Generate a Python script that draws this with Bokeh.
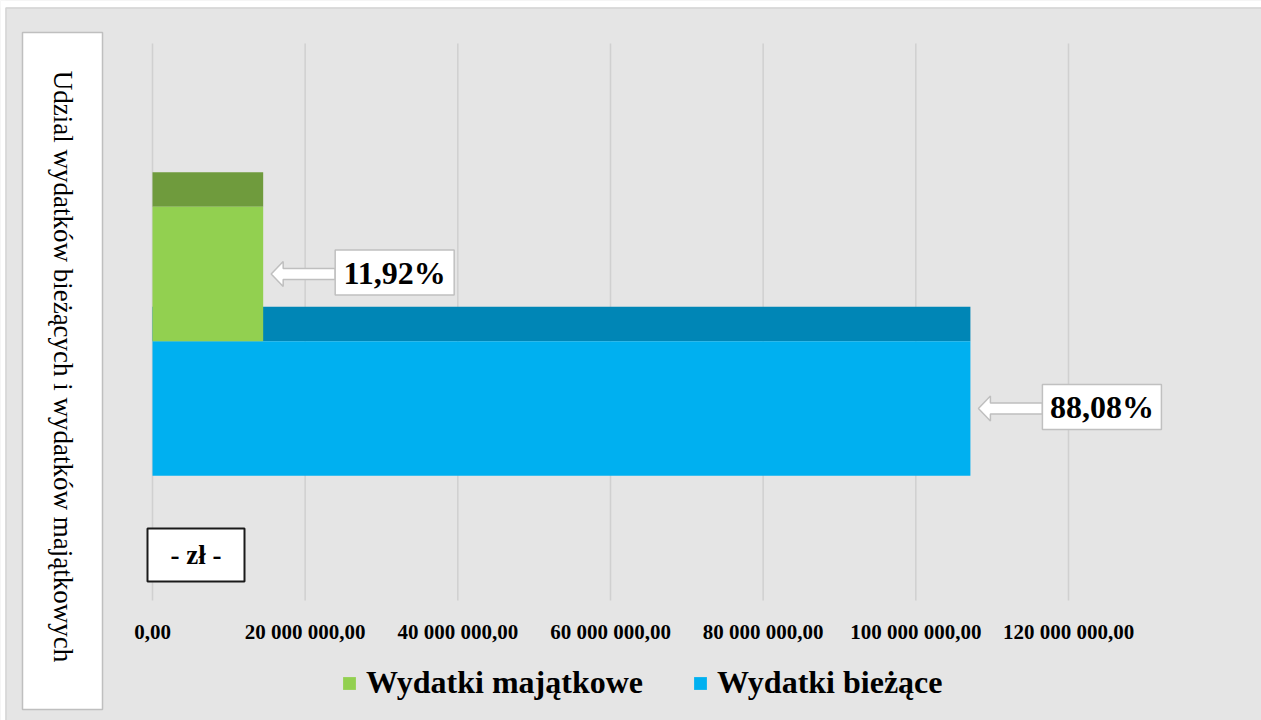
import math
from bokeh.plotting import figure
from bokeh.models import (Range1d, FixedTicker, Label, BoxAnnotation, Legend,
                          LegendItem, ColumnDataSource)
from bokeh.embed import file_html
from bokeh.resources import INLINE

# ---------------- data ----------------
series = ["Wydatki majątkowe", "Wydatki bieżące"]
amounts = [14_500_000, 107_150_000]
front_colors = ["#92d050", "#00b0f0"]
top_colors = ["#6f9b3d", "#0086b6"]
x_ticks = [0, 20_000_000, 40_000_000, 60_000_000, 80_000_000, 100_000_000, 120_000_000]
y_title = "Udzial wydatków bieżących i wydatków majątkowych"
unit_text = "- zł -"

# ---------------- layout ----------------
W, H = 1261, 720
ORIGIN_PX = 152            # canvas x of value 0
PX_PER_UNIT = 916 / 120e6  # pixels per zloty
px = 1 / PX_PER_UNIT       # data units per pixel (x)
FONT = "Liberation Serif"
BG = "#e5e5e5"


def X(cx):
    """canvas x -> data x"""
    return (cx - ORIGIN_PX) * px


def Y(cy):
    """canvas y -> data y (and frame-relative screen y)"""
    return H - cy


def screen_box(left, right, top, bottom, **kw):
    return BoxAnnotation(left=left, right=right, top=top, bottom=bottom,
                         left_units="screen", right_units="screen",
                         top_units="screen", bottom_units="screen", **kw)


GRID_TOP, GRID_BOTTOM = 43, 600
CAT_Y = Y(340.75)
BAR_H = 134.5
DEPTH = 34.5

p = figure(width=W, height=H, output_backend="svg", toolbar_location=None,
           x_range=Range1d(X(0), X(W)), y_range=Range1d(0, H),
           min_border=0, min_border_left=0, min_border_right=0,
           min_border_top=0, min_border_bottom=0)
p.background_fill_color = BG
p.border_fill_color = BG
p.outline_line_color = None

p.yaxis.visible = False
p.ygrid.visible = False
p.xgrid.visible = False

ax = p.xaxis[0]
ax.fixed_location = Y(GRID_BOTTOM)
ax.ticker = FixedTicker(ticks=x_ticks)
ax.major_label_overrides = {
    t: f"{t:,.2f}".replace(",", " ").replace(".", ",") for t in x_ticks}
ax.axis_line_color = None
ax.major_tick_line_color = None
ax.minor_tick_line_color = None
ax.major_label_text_font = FONT
ax.major_label_text_font_style = "bold"
ax.major_label_text_font_size = "21px"
ax.major_label_text_color = "black"
ax.major_label_standoff = 13

# chart-area frame (white page strip + light border)
p.add_layout(screen_box(0, W, H, Y(7), fill_color="white", fill_alpha=1,
                        line_color=None, level="underlay"))
p.add_layout(screen_box(0, 5, H, 0, fill_color="white", fill_alpha=1,
                        line_color=None, level="underlay"))
p.add_layout(screen_box(5.5, W + 5, Y(7.5), -5, fill_alpha=0,
                        line_color="#d4d4d4", line_alpha=1, line_width=1.5,
                        level="underlay"))

# vertical gridlines at the tick values
p.segment(x0=x_ticks, x1=x_ticks, y0=[Y(GRID_BOTTOM)] * len(x_ticks),
          y1=[Y(GRID_TOP)] * len(x_ticks), line_color="#d0d0d0", line_width=1.5)

centers = [CAT_Y + BAR_H * (0.5 - i) for i in range(len(series))]
total = sum(amounts)

front_r = {}
for i in reversed(range(len(series))):
    c = centers[i]
    top_src = ColumnDataSource(dict(y=[c + BAR_H / 2 + DEPTH / 2], right=[amounts[i]]))
    p.hbar(y="y", height=DEPTH, left=0, right="right", source=top_src,
           fill_color=top_colors[i], line_color=None)
    src = ColumnDataSource(dict(y=[c], right=[amounts[i]]))
    front_r[i] = p.hbar(y="y", height=BAR_H, left=0, right="right", source=src,
                        fill_color=front_colors[i], line_color=None)

# callouts
for i in range(len(series)):
    c = centers[i]
    v = amounts[i]
    tip = v + 8 * px
    xs = [tip, tip + 12 * px, tip + 12 * px, tip + 64 * px, tip + 64 * px,
          tip + 12 * px, tip + 12 * px]
    ys = [c, c + 12.5, c + 5.5, c + 5.5, c - 5.5, c - 5.5, c - 12.5]
    p.patch(xs, ys, fill_color="white", line_color="#bfbfbf", line_width=1.5)
    left = tip + 64 * px
    right = left + 119 * px
    yc = c + 1.5
    p.quad(left=[left], right=[right], bottom=[yc - 22.5], top=[yc + 22.5],
           fill_color="white", line_color="#c0c0c0", line_width=1.5)
    pct = f"{v / total * 100:.2f}%".replace(".", ",")
    p.add_layout(Label(x=(left + right) / 2, y=yc, text=pct, text_align="center",
                       text_baseline="middle", text_font=FONT,
                       text_font_style="bold", text_font_size="32px",
                       text_color="black"))

# vertical title box
p.add_layout(screen_box(22, 102, Y(32), Y(709), fill_color="white", fill_alpha=1,
                        line_color="#bfbfbf", line_alpha=1, line_width=1.5))
p.add_layout(Label(x=62, y=Y(366), x_units="screen", y_units="screen",
                   text=y_title, angle=-math.pi / 2, text_align="center",
                   text_baseline="middle", text_font=FONT,
                   text_font_size="27px", text_color="black"))

# unit box
p.add_layout(screen_box(147, 244, Y(528), Y(581), fill_color="white", fill_alpha=1,
                        line_color="#1a1a1a", line_alpha=1, line_width=2))
p.add_layout(Label(x=195.5, y=Y(554.5), x_units="screen", y_units="screen",
                   text=unit_text, text_align="center", text_baseline="middle",
                   text_font=FONT, text_font_style="bold", text_font_size="27px",
                   text_color="black"))

legend = Legend(items=[LegendItem(label=series[i], renderers=[front_r[i]])
                       for i in range(len(series))],
                orientation="horizontal", location=(341, Y(701)),
                padding=0, margin=0, spacing=49, label_standoff=9,
                glyph_width=16, glyph_height=16,
                label_text_font=FONT, label_text_font_style="bold",
                label_text_font_size="32px", label_text_color="black",
                background_fill_alpha=0, border_line_color=None)
p.add_layout(legend)

open("out.html", "w").write(file_html(p, INLINE))
